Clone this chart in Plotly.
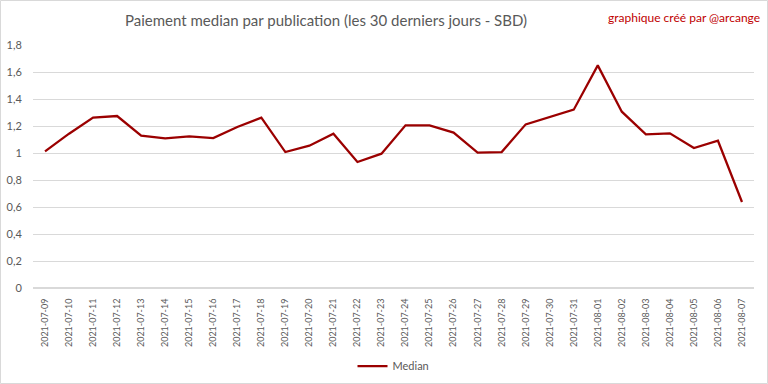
import plotly.graph_objects as go

dates = ["2021-07-09","2021-07-10","2021-07-11","2021-07-12","2021-07-13","2021-07-14","2021-07-15",
         "2021-07-16","2021-07-17","2021-07-18","2021-07-19","2021-07-20","2021-07-21","2021-07-22",
         "2021-07-23","2021-07-24","2021-07-25","2021-07-26","2021-07-27","2021-07-28","2021-07-29",
         "2021-07-30","2021-07-31","2021-08-01","2021-08-02","2021-08-03","2021-08-04","2021-08-05",
         "2021-08-06","2021-08-07"]
median = [1.012,1.143,1.262,1.274,1.128,1.109,1.123,1.111,1.193,1.262,1.007,1.054,1.143,0.933,
          0.995,1.205,1.205,1.151,1.002,1.007,1.212,1.267,1.321,1.649,1.306,1.138,1.146,1.037,
          1.091,0.637]
y_ticks = [0, 0.2, 0.4, 0.6, 0.8, 1.0, 1.2, 1.4, 1.6, 1.8]
y_tick_labels = ["0", "0,2", "0,4", "0,6", "0,8", "1", "1,2", "1,4", "1,6", "1,8"]

FONT = "Lato, Roboto, sans-serif"
W, H = 768, 384
ML, MR, MT, MB = 33, 14, 45, 96
pw, ph = W - ML - MR, H - MT - MB

fig = go.Figure()
fig.add_trace(go.Scatter(x=dates, y=median, mode="lines", name="Median",
                         line=dict(color="#9b0000", width=2.25)))

def px_x(px):
    return (px - ML) / pw

def px_y(py):
    return (H - MB - py) / ph

fig.update_layout(
    width=W, height=H,
    margin=dict(l=ML, r=MR, t=MT, b=MB, autoexpand=False),
    paper_bgcolor="white", plot_bgcolor="white",
    font=dict(family=FONT, color="#595959"),
    showlegend=True,
    legend=dict(orientation="h", x=0.5, xanchor="center", y=px_y(366), yanchor="middle",
                font=dict(size=11, color="#595959"), bgcolor="rgba(0,0,0,0)", itemwidth=30),
    xaxis=dict(type="category", range=[-0.5, len(dates) - 0.5], tickangle=-90, automargin=False,
               tickfont=dict(size=9, color="#595959"),
               showgrid=False, showline=False, ticks="outside", ticklen=6, tickcolor="rgba(0,0,0,0)"),
    yaxis=dict(range=[0, 1.8], tickvals=y_ticks, ticktext=y_tick_labels, automargin=False,
               gridcolor="#d9d9d9", gridwidth=1, zeroline=True, zerolinecolor="#d9d9d9",
               showline=False, ticks="outside", ticklen=8, tickcolor="rgba(0,0,0,0)",
               tickfont=dict(size=11, color="#595959")),
    annotations=[
        dict(text="Paiement median par publication (les 30 derniers jours - SBD)",
             xref="paper", yref="paper", x=px_x(326), y=px_y(20), xanchor="center", yanchor="middle",
             showarrow=False, font=dict(size=15, color="#595959", family=FONT)),
        dict(text="graphique créé par @arcange",
             xref="paper", yref="paper", x=px_x(762), y=px_y(18), xanchor="right", yanchor="middle",
             showarrow=False, font=dict(size=12, color="#c00000", family=FONT)),
    ],
    shapes=[dict(type="rect", xref="paper", yref="paper",
                 x0=px_x(0.5), x1=px_x(W - 0.5), y0=px_y(H - 0.5), y1=px_y(0.5),
                 line=dict(color="#d9d9d9", width=1), fillcolor="rgba(0,0,0,0)", layer="below")],
)

fig.write_html("out.html", config={"displayModeBar": False},
               post_script="document.body.style.margin='0';")
